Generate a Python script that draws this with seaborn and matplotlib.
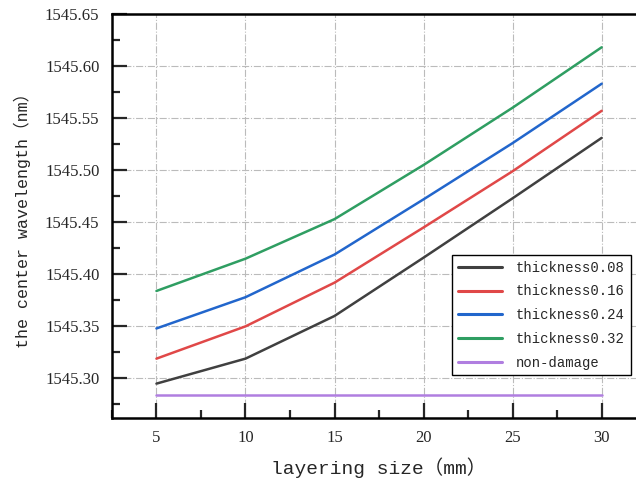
import numpy as np
import pandas as pd
import matplotlib
matplotlib.use('Agg')
import matplotlib.pyplot as plt
import seaborn as sns
from matplotlib.ticker import MultipleLocator, FormatStrFormatter

# data
layering_size = [5, 10, 15, 20, 25, 30]
t008 = [1545.295, 1545.319, 1545.360, 1545.416, 1545.473, 1545.531]
t016 = [1545.319, 1545.350, 1545.392, 1545.445, 1545.499, 1545.557]
t024 = [1545.348, 1545.378, 1545.419, 1545.472, 1545.526, 1545.583]
t032 = [1545.384, 1545.415, 1545.453, 1545.505, 1545.560, 1545.618]
non_damage = [1545.284] * 6

series_names = ['thickness0.08', 'thickness0.16', 'thickness0.24', 'thickness0.32', 'non-damage']
colors = ['#404040', '#e04848', '#2266cc', '#2f9e62', '#b07ee0']

rows = []
for name, vals in zip(series_names, [t008, t016, t024, t032, non_damage]):
    for x, y in zip(layering_size, vals):
        rows.append({'size': x, 'wl': y, 'series': name})
df = pd.DataFrame(rows)

sns.set_style('white')
plt.rcParams['font.family'] = ['Liberation Mono', 'Noto Sans CJK SC', 'DejaVu Sans']

fig = plt.figure(figsize=(6.36, 4.87), dpi=100)
ax = fig.add_axes([0.176, 0.1417, 0.84, 0.8296])

# grid first so lines sit on top
ax.grid(True, color='#bbbbbb', linestyle='-.', linewidth=0.8)
ax.set_axisbelow(True)

sns.lineplot(data=df, x='size', y='wl', hue='series', hue_order=series_names,
             palette=colors, linewidth=1.8, ax=ax)

ax.set_xlim(2.5, 32.5)
ax.set_ylim(1545.262, 1545.65)
ax.xaxis.set_major_locator(MultipleLocator(5))
ax.xaxis.set_minor_locator(MultipleLocator(2.5))
ax.yaxis.set_major_locator(MultipleLocator(0.05))
ax.yaxis.set_minor_locator(MultipleLocator(0.025))
ax.yaxis.set_major_formatter(FormatStrFormatter('%.2f'))

ax.tick_params(which='major', direction='in', length=11, width=1.6,
               labelsize=12, bottom=True, left=True, top=False, right=False, pad=9)
ax.tick_params(which='minor', direction='in', length=5.5, width=1.6,
               bottom=True, left=True, top=False, right=False)
for lab in ax.get_xticklabels() + ax.get_yticklabels():
    lab.set_family('Liberation Serif')

for s in ax.spines.values():
    s.set_linewidth(1.8)
    s.set_color('black')

ax.set_xlabel('layering size（mm）', fontsize=14, labelpad=8)
ax.set_ylabel('the center wavelength（nm）', fontsize=12, labelpad=10)

leg = ax.legend(loc='lower left', bbox_to_anchor=(0.637, 0.106), fontsize=10,
                frameon=True, fancybox=False, edgecolor='black', framealpha=1,
                handlelength=3.2, handletextpad=1.0, borderpad=0.4,
                labelspacing=0.7, borderaxespad=0)
leg.get_frame().set_linewidth(1.0)
for line in leg.get_lines():
    line.set_linewidth(2.2)

fig.savefig('out.png', dpi=100)
